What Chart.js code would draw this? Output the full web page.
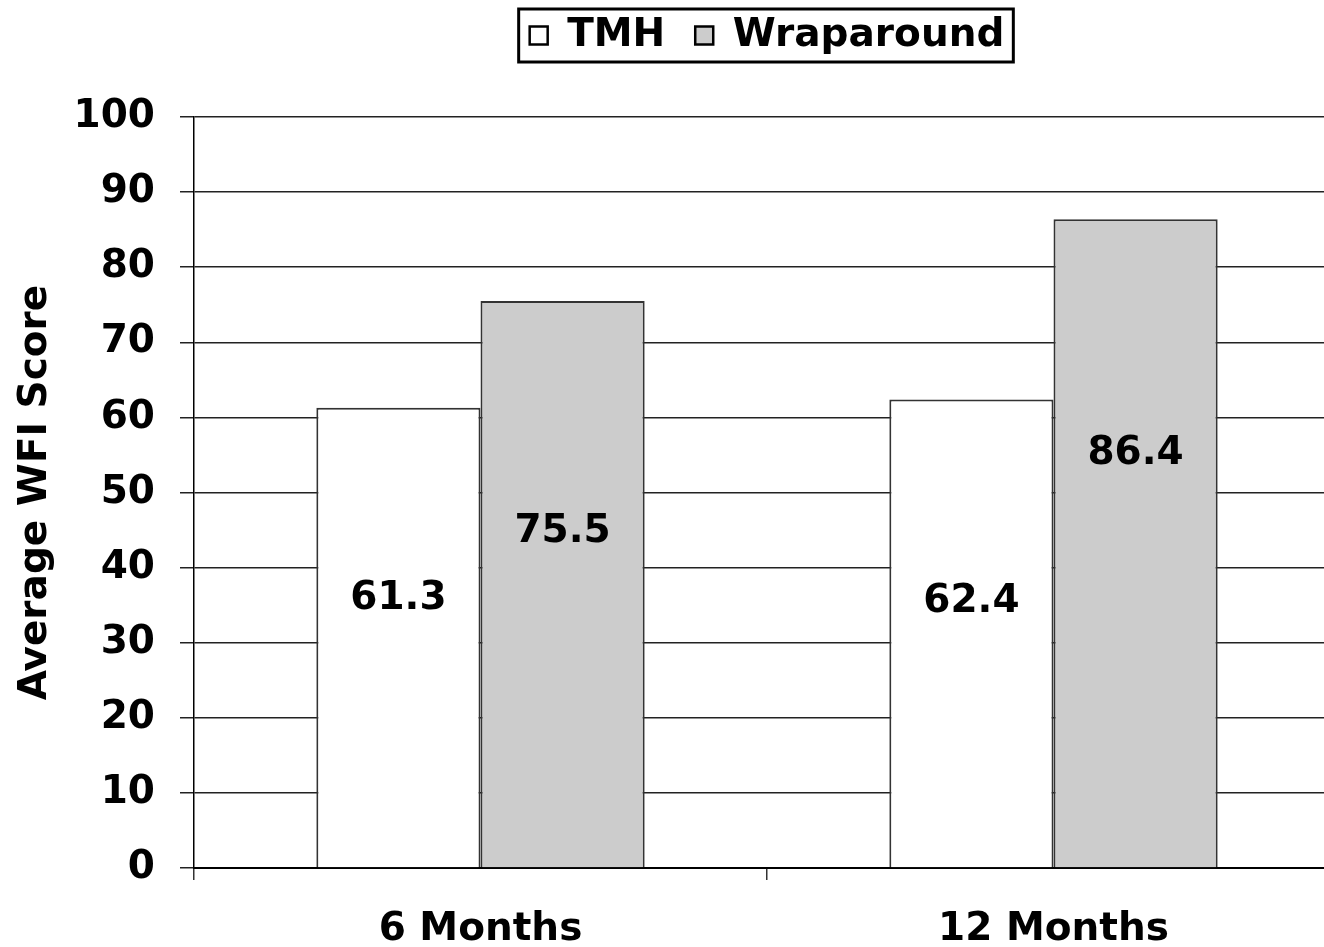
<!DOCTYPE html>
<html>
<head>
<meta charset="utf-8">
<script src="https://cdn.jsdelivr.net/npm/chart.js@4"></script>
<style>
  html, body { margin: 0; padding: 0; background: #fff; overflow: hidden; }
  #wrap { width: 1340px; height: 947px; }
</style>
</head>
<body>
<div id="wrap"><canvas id="wfiChart"></canvas></div>
<script>
const categories = ['6 Months', '12 Months'];
const tmhScores = [61.3, 62.4];
const wrapScores = [75.5, 86.4];
// where the value labels sit (data units)
const tmhLabelAt = [35.9, 35.5];
const wrapLabelAt = [44.8, 55.2];
const yTicks = [0, 10, 20, 30, 40, 50, 60, 70, 80, 90, 100];

const FONT = 'DejaVu Sans';

// border around the legend + extra room under it
const legendFrame = {
    id: 'legendFrame',
    beforeLayout(chart) {
        const lg = chart.legend;
        if (lg && !lg._extraRoom) {
            const fit = lg.fit.bind(lg);
            lg.fit = function() { fit(); this.height += 52; };
            lg._extraRoom = true;
        }
    },
    afterDraw(chart) {
        const boxes = chart.legend.legendHitBoxes;
        if (!boxes || !boxes.length) return;
        const left = Math.min(...boxes.map(b => b.left));
        const right = Math.max(...boxes.map(b => b.left + b.width));
        const top = Math.min(...boxes.map(b => b.top));
        const bottom = Math.max(...boxes.map(b => b.top + b.height));
        const ctx = chart.ctx;
        ctx.save();
        ctx.strokeStyle = '#000';
        ctx.lineWidth = 3;
        ctx.strokeRect(left - 11, top - 7, right - left + 20, bottom - top + 14);
        ctx.restore();
    }
};

// value labels inside the bars
const barValues = {
    id: 'barValues',
    afterDatasetsDraw(chart) {
        const ctx = chart.ctx;
        const y = chart.scales.y;
        const spots = [tmhLabelAt, wrapLabelAt];
        ctx.save();
        ctx.font = 'bold 39px "' + FONT + '"';
        ctx.fillStyle = '#000';
        ctx.textAlign = 'center';
        ctx.textBaseline = 'middle';
        chart.data.datasets.forEach((ds, i) => {
            chart.getDatasetMeta(i).data.forEach((bar, j) => {
                ctx.fillText(ds.data[j].toFixed(1), bar.x, y.getPixelForValue(spots[i][j]));
            });
        });
        ctx.restore();
    }
};

new Chart(document.getElementById('wfiChart').getContext('2d'), {
    type: 'bar',
    data: {
        labels: categories,
        datasets: [{
            label: 'TMH',
            data: tmhScores,
            backgroundColor: '#ffffff',
            borderColor: '#333333',
            borderWidth: 2
        }, {
            label: 'Wraparound',
            data: wrapScores,
            backgroundColor: '#cccccc',
            borderColor: '#333333',
            borderWidth: 2
        }]
    },
    options: {
        responsive: true,
        maintainAspectRatio: false,
        animation: false,
        layout: { padding: { top: -14, right: 0, left: 0, bottom: 0 } },
        datasets: {
            bar: { categoryPercentage: 0.573, barPercentage: 1.0 }
        },
        scales: {
            x: {
                grid: {
                    offset: true,
                    drawOnChartArea: false,
                    tickLength: 12,
                    color: '#333',
                    lineWidth: 1.5
                },
                border: { color: '#000', width: 2 },
                ticks: {
                    color: '#000',
                    padding: 26,
                    font: { family: FONT, size: 39, weight: 'bold' }
                },
                afterFit(scale) { scale.height = 79; }
            },
            y: {
                min: 0,
                max: 100,
                afterBuildTicks(scale) { scale.ticks = yTicks.map(v => ({ value: v })); },
                grid: {
                    color: '#222',
                    lineWidth: 1.5,
                    tickLength: 14
                },
                border: { color: '#000', width: 1.5 },
                ticks: {
                    color: '#000',
                    padding: 25,
                    font: { family: FONT, size: 39, weight: 'bold' }
                },
                title: {
                    display: true,
                    text: 'Average WFI Score',
                    color: '#000',
                    padding: { top: 12, bottom: 0 },
                    font: { family: FONT, size: 39, weight: 'bold' }
                },
                afterFit(scale) { scale.width = 194; }
            }
        },
        plugins: {
            legend: {
                position: 'top',
                fullSize: false,
                labels: {
                    color: '#000',
                    boxWidth: 18,
                    boxHeight: 18,
                    padding: 30,
                    font: { family: FONT, size: 39, weight: 'bold' },
                    generateLabels(chart) {
                        return chart.data.datasets.map((ds, i) => ({
                            text: ds.label,
                            fillStyle: ds.backgroundColor,
                            strokeStyle: '#000',
                            lineWidth: 2.5,
                            fontColor: '#000',
                            hidden: false,
                            datasetIndex: i
                        }));
                    }
                }
            },
            tooltip: { enabled: false }
        }
    },
    plugins: [legendFrame, barValues]
});
</script>
</body>
</html>
